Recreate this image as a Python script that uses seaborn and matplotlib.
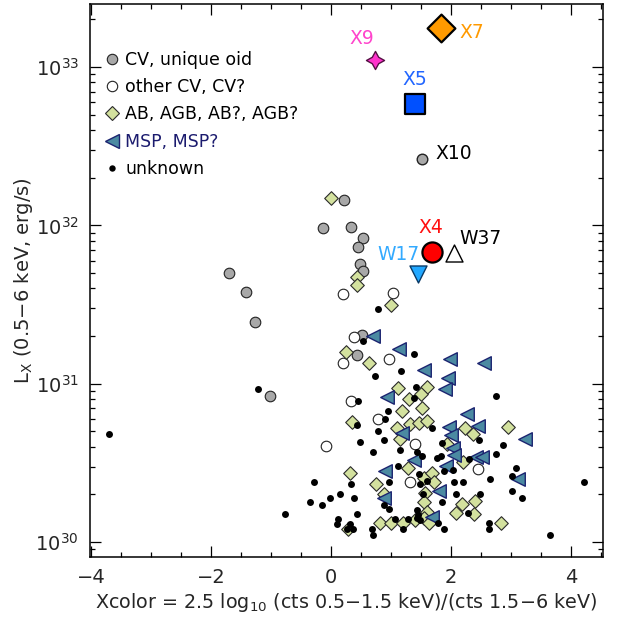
import numpy as np
import pandas as pd
import matplotlib
matplotlib.use("Agg")
import matplotlib.pyplot as plt
from matplotlib.lines import Line2D
from matplotlib.ticker import MultipleLocator, LogLocator
import seaborn as sns

# ---------------------------------------------------------------- data
# X-ray colour and log10 luminosity (0.5-6 keV, erg/s) for each source class
cv_oid_x = [-1.70, -1.42, -1.275, -1.02, -0.13, 0.22, 0.325, 0.533, 0.445, 0.483,
            0.533, 0.512, 0.438]
cv_oid_logL = [31.699, 31.579, 31.389, 30.920, 31.985, 32.160, 31.990, 31.920, 31.863,
               31.756, 31.712, 31.307, 31.179]

cv_other_x = [0.20, 1.022, 0.375, 0.205, 0.963, 0.338, 0.788, -0.083, 1.392, 2.442, 1.317]
cv_other_logL = [31.566, 31.576, 31.297, 31.129, 31.154, 30.891, 30.775, 30.606, 30.622,
                 30.463, 30.381]

ab_x = [-0.005, 0.422, 0.425, 0.995, 0.245, 0.628, 1.12, 1.605, 1.503, 1.30,
        1.178, 1.52, 0.355, 1.10, 1.317, 1.467, 1.60, 2.237, 2.367, 2.942,
        1.145, 1.937, 2.195, 1.283, 0.317, 1.547, 1.688, 1.713, 0.755, 0.888,
        1.57, 1.547, 2.18, 2.403, 2.072, 2.383, 1.595, 1.55, 0.817, 0.995,
        1.205, 1.405, 1.628, 0.278, 2.83]
ab_logL = [32.173, 31.674, 31.623, 31.500, 31.198, 31.130, 30.971, 30.981, 30.935, 30.903,
           30.829, 30.844, 30.758, 30.723, 30.744, 30.750, 30.766, 30.720, 30.682, 30.725,
           30.652, 30.618, 30.507, 30.466, 30.434, 30.404, 30.437, 30.381, 30.366, 30.301,
           30.311, 30.256, 30.238, 30.259, 30.181, 30.180, 30.189, 30.150, 30.118, 30.118,
           30.122, 30.137, 30.120, 30.080, 30.118]

msp_x = [0.705, 1.133, 1.975, 2.55, 1.542, 1.953, 1.905, 0.925, 2.262, 2.445,
         1.967, 1.178, 2.0, 3.225, 2.038, 2.05, 2.417, 2.517, 1.38, 1.913,
         0.905, 3.117, 1.797, 0.872, 1.683]
msp_logL = [31.301, 31.218, 31.154, 31.129, 31.085, 31.034, 30.964, 30.914, 30.806, 30.733,
            30.726, 30.690, 30.674, 30.652, 30.592, 30.548, 30.535, 30.535, 30.517, 30.481,
            30.448, 30.399, 30.323, 30.278, 30.160]

unk_x = [-3.70, -1.222, -0.767, -0.35, 0.772, 0.538, 1.388, 1.162, 0.728, 1.412,
         1.372, 2.75, 0.445, 0.95, 0.905, 0.428, 1.672, 0.778, 0.872, 0.483,
         2.462, 1.845, 2.867, 0.70, 1.145, 1.428, 1.508, 1.767, 1.837, 2.747,
         2.297, 1.108, 1.872, 2.033, 3.088, 3.02, 1.462, 1.595, 0.963, 2.045,
         2.205, 2.642, -0.288, 0.322, 1.488, 0.155, -0.017, -0.155, 0.372, 1.533,
         2.08, 2.483, 3.013, 3.178, 1.853, 0.872, 2.283, 0.962, 0.428, 1.428,
         1.442, 0.112, 0.095, 0.317, 0.367, 0.262, 0.683, 0.705, 1.205, 1.288,
         1.067, 1.428, 1.788, 1.872, 2.638, 2.638, 3.65, 4.22, 1.483]
unk_logL = [30.682, 30.968, 30.177, 30.254, 31.472, 31.271, 31.190, 31.080, 31.046, 30.977,
            30.909, 30.920, 30.892, 30.827, 30.779, 30.737, 30.719, 30.699, 30.644, 30.633,
            30.644, 30.623, 30.613, 30.568, 30.581, 30.570, 30.544, 30.534, 30.546, 30.557,
            30.522, 30.481, 30.446, 30.458, 30.465, 30.420, 30.428, 30.383, 30.380, 30.382,
            30.381, 30.400, 30.381, 30.364, 30.364, 30.303, 30.278, 30.234, 30.280, 30.303,
            30.302, 30.303, 30.323, 30.280, 30.256, 30.236, 30.181, 30.206, 30.179, 30.205,
            30.174, 30.147, 30.114, 30.114, 30.080, 30.080, 30.080, 30.042, 30.080, 30.147,
            30.143, 30.150, 30.118, 30.080, 30.118, 30.080, 30.042, 30.379, 30.139]

# individually named bright sources
named = ["X7", "X9", "X5", "X10", "X4", "W37", "W17"]
named_x = [1.828, 0.733, 1.405, 1.517, 1.683, 2.045, 1.455]
named_logL = [33.248, 33.044, 32.766, 32.417, 31.832, 31.823, 31.691]

legend_labels = ["CV, unique oid", "other CV, CV?", "AB, AGB, AB?, AGB?",
                 "MSP, MSP?", "unknown"]

# ---------------------------------------------------------------- style
sns.set_style("ticks")
plt.rcParams["font.family"] = ["DejaVu Sans"]
plt.rcParams["mathtext.default"] = "regular"

GRAY = "#a8a8a8"
GREEN = "#d3e19e"
MSP_FACE = "#4b8aa2"
MSP_EDGE = "#1b2470"
NAVY = "#1b1b6e"

fig = plt.figure(figsize=(6.34, 6.19), dpi=100)
ax = fig.add_axes([90 / 634, 1 - 557 / 619, 513 / 634, 553 / 619])


def frame(xs, logs):
    return pd.DataFrame({"x": xs, "L": np.power(10.0, logs)})


# ---------------------------------------------------------------- scatter layers
sns.scatterplot(data=frame(cv_oid_x, cv_oid_logL), x="x", y="L", ax=ax,
                marker="o", s=58, color=GRAY, edgecolor="#222222", linewidth=0.8,
                legend=False, zorder=3)
sns.scatterplot(data=frame(cv_other_x, cv_other_logL), x="x", y="L", ax=ax,
                marker="o", s=58, color="white", edgecolor="#222222", linewidth=0.8,
                legend=False, zorder=3)
sns.scatterplot(data=frame(ab_x, ab_logL), x="x", y="L", ax=ax,
                marker="D", s=48, color=GREEN, edgecolor="#2a2a2a", linewidth=0.8,
                legend=False, zorder=3)
sns.scatterplot(data=frame(msp_x, msp_logL), x="x", y="L", ax=ax,
                marker="<", s=95, color=MSP_FACE, edgecolor=MSP_EDGE, linewidth=1.0,
                legend=False, zorder=3)
sns.scatterplot(data=frame(unk_x, unk_logL), x="x", y="L", ax=ax,
                marker="o", s=25, color="black", edgecolor="black", linewidth=0,
                legend=False, zorder=4)

# named sources: marker style and colour per source
named_style = {
    "X7": dict(marker="D", s=200, color="#ff9a00", edge="black"),
    "X9": dict(marker=(4, 1, 0), s=170, color="#ff33cc", edge="#551144"),
    "X5": dict(marker="s", s=210, color="#0050ff", edge="black"),
    "X10": dict(marker="o", s=58, color=GRAY, edge="#222222"),
    "X4": dict(marker="o", s=210, color="#ff0000", edge="black"),
    "W37": dict(marker="^", s=150, color="white", edge="black"),
    "W17": dict(marker="v", s=150, color="#22a8ff", edge="#0a3a66"),
}
for name, xv, lv in zip(named, named_x, named_logL):
    st = named_style[name]
    lw = 1.6 if name in ("X7", "X5", "X4") else 1.0
    sns.scatterplot(x=[xv], y=[10 ** lv], ax=ax, marker=st["marker"], s=st["s"],
                    color=st["color"], edgecolor=st["edge"], linewidth=lw,
                    legend=False, zorder=5)

# labels next to the named sources
label_pos = {
    "X7": (2.13, 33.215, "left", "#ff9a00"),
    "X9": (0.517, 33.177, "center", "#ff44cc"),
    "X5": (1.40, 32.924, "center", "#2266ff"),
    "X10": (1.733, 32.457, "left", "black"),
    "X4": (1.667, 31.989, "center", "#ff1010"),
    "W37": (2.133, 31.920, "left", "black"),
    "W17": (1.467, 31.813, "right", "#33aaff"),
}
for name in named:
    lx, ll, ha, col = label_pos[name]
    ax.text(lx, 10 ** ll, name, ha=ha, va="center", color=col, fontsize=13.5)

# ---------------------------------------------------------------- axes
ax.set_yscale("log")
ax.set_xlim(-4.02, 4.53)
ax.set_ylim(8.05e29, 2.5e33)

ax.xaxis.set_major_locator(MultipleLocator(2))
ax.xaxis.set_minor_locator(MultipleLocator(0.5))
ax.yaxis.set_major_locator(LogLocator(base=10, numticks=10))
ax.yaxis.set_minor_locator(LogLocator(base=10, subs=np.arange(2, 10), numticks=20))

ax.tick_params(which="both", direction="in", top=True, right=True,
               labelsize=14, color="black", width=0.9, pad=8)
ax.tick_params(which="major", length=7.7)
ax.tick_params(which="minor", length=3.6)
for sp in ax.spines.values():
    sp.set_linewidth(1.1)
    sp.set_color("black")

ax.set_xlabel("Xcolor = 2.5 log$_{10}$ (cts 0.5\u22121.5 keV)/(cts 1.5\u22126 keV)",
              fontsize=13.8, labelpad=3)
ax.set_ylabel("L$_X$ (0.5\u22126 keV, erg/s)", fontsize=14, labelpad=0)

# ---------------------------------------------------------------- legend
handles = [
    Line2D([], [], ls="", marker="o", ms=7.5, mfc=GRAY, mec="#222222", mew=0.8),
    Line2D([], [], ls="", marker="o", ms=7.5, mfc="white", mec="#222222", mew=0.8),
    Line2D([], [], ls="", marker="D", ms=7.5, mfc=GREEN, mec="#2a2a2a", mew=0.8),
    Line2D([], [], ls="", marker="<", ms=10, mfc=MSP_FACE, mec=MSP_EDGE, mew=1.0),
    Line2D([], [], ls="", marker="o", ms=4.6, mfc="black", mec="black", mew=0),
]
ax.legend(handles, legend_labels, loc="upper left", bbox_to_anchor=(0.003, 0.937),
          frameon=False, fontsize=12.5, handlelength=0.9, handletextpad=0.35,
          labelspacing=0.53, borderpad=0.2,
          labelcolor=["black", "black", "black", NAVY, "black"])

fig.savefig("out.png", dpi=100)
